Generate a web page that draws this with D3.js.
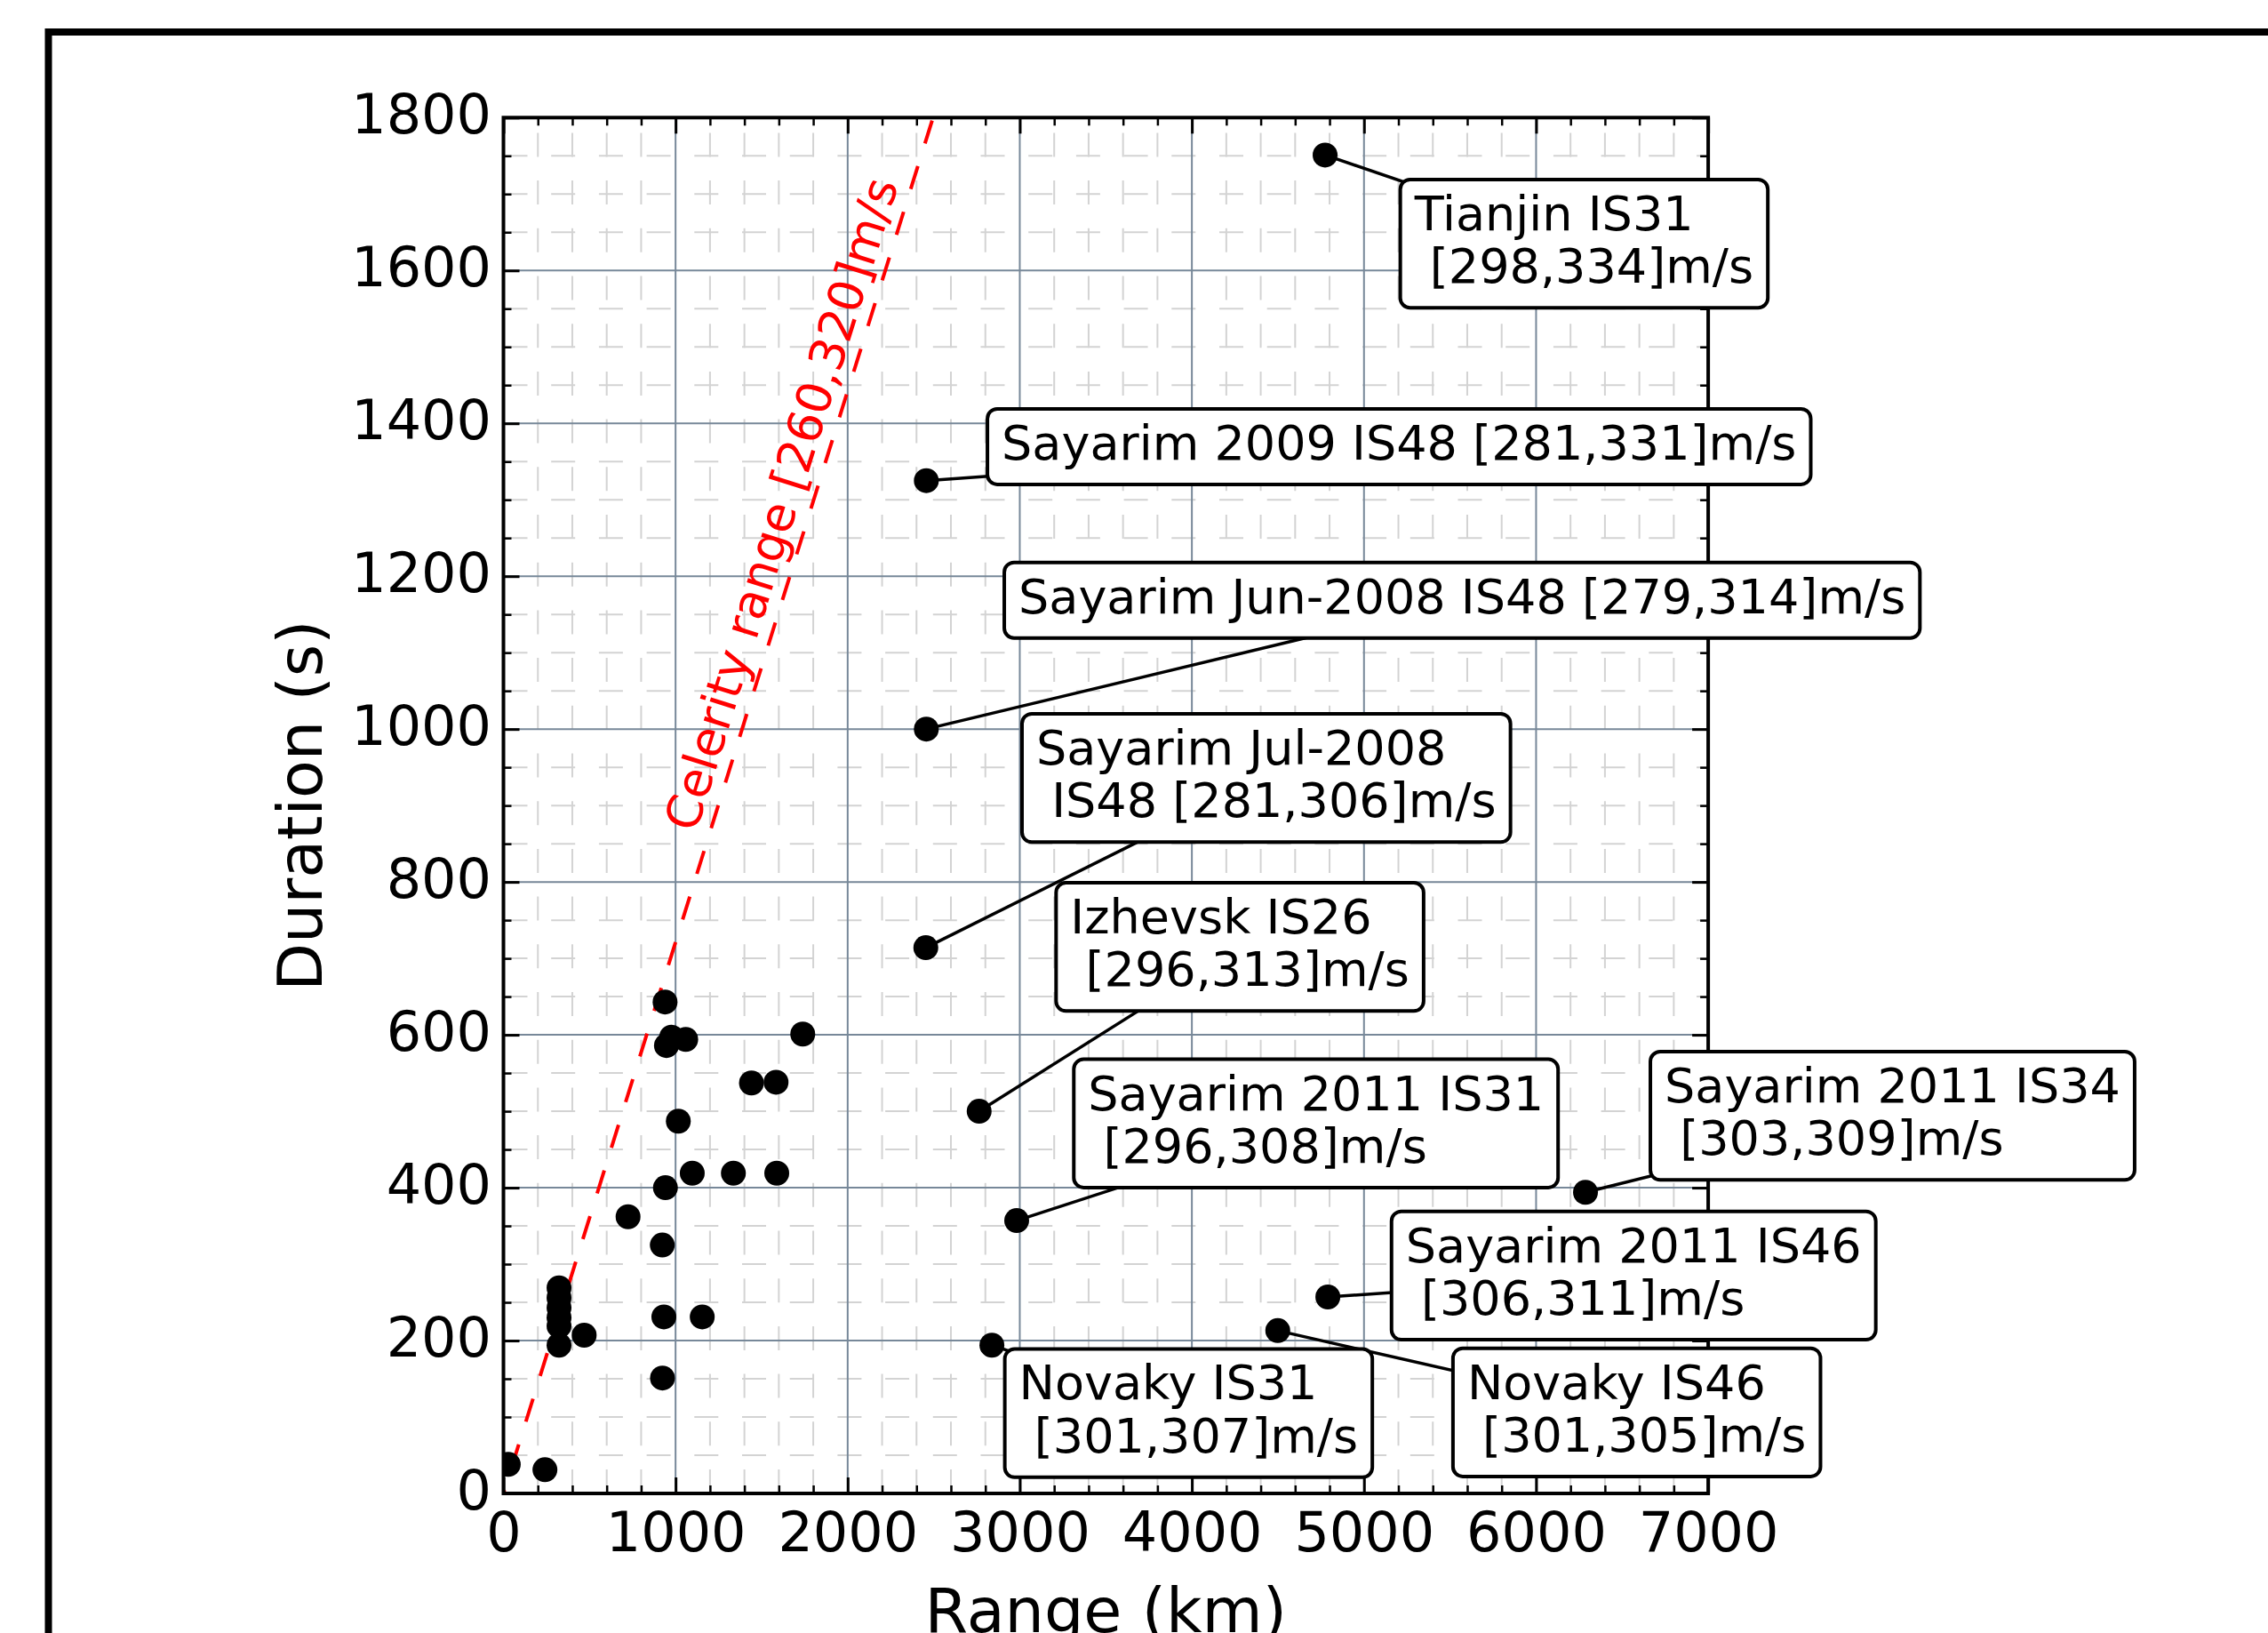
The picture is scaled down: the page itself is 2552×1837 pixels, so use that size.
<!DOCTYPE html>
<html>
<head>
<meta charset="utf-8">
<script src="https://cdn.jsdelivr.net/npm/d3@7"></script>
<style>
  html, body { margin: 0; padding: 0; background: #fff; }
  svg { display: block; }
  text { font-family: "DejaVu Sans", sans-serif; }
</style>
</head>
<body>
<svg id="chart" width="2552" height="1837"></svg>
<script>
(function() {

  // unlabelled events: range (km) and duration (s)
  const eventRange    = [28, 241, 323, 323, 323, 323, 323, 323, 469, 724, 923, 941, 932, 924, 1155,
                         939, 977, 947, 1059, 1739, 1441, 1584, 1016, 1097, 1336, 1588];
  const eventDuration = [38, 31, 269, 256, 243, 230, 219, 194, 207, 362, 325, 400, 231, 151, 231,
                         643, 597, 586, 594, 601, 537, 538, 487, 419, 419, 419];

  // annotated events
  const labelLines = [
    ["Tianjin IS31", " [298,334]m/s"],
    ["Sayarim 2009 IS48 [281,331]m/s"],
    ["Sayarim Jun-2008 IS48 [279,314]m/s"],
    ["Sayarim Jul-2008", " IS48 [281,306]m/s"],
    ["Izhevsk IS26", " [296,313]m/s"],
    ["Sayarim 2011 IS31", " [296,308]m/s"],
    ["Sayarim 2011 IS34", " [303,309]m/s"],
    ["Sayarim 2011 IS46", " [306,311]m/s"],
    ["Novaky IS31", " [301,307]m/s"],
    ["Novaky IS46", " [301,305]m/s"]
  ];
  const labelRange    = [4774, 2457, 2457, 2454, 2764, 2982, 6287, 4790, 2838, 4499];
  const labelDuration = [1751, 1325, 1000, 714, 500, 357, 394, 257, 194, 213];
  // top-left corner of each label box, in data units
  const boxRange    = [5211, 2812, 2910, 3013, 3211, 3314, 6664, 5160, 2913, 5517];
  const boxDuration = [1719, 1419, 1218, 1020, 799, 568, 578, 369, 189, 190];

  // celerity reference line
  const celerityRange    = [0, 2496];
  const celerityDuration = [0, 1800];
  const celerityText = "Celerity range [260,320]m/s";
  const celerityTextAt = [1707, 1288];

  const xTicks = [0, 1000, 2000, 3000, 4000, 5000, 6000, 7000];
  const yTicks = [0, 200, 400, 600, 800, 1000, 1200, 1400, 1600, 1800];
  const xMinor = d3.range(0, 7001, 200).filter(v => v % 1000 !== 0);
  const yMinor = d3.range(0, 1801, 50).filter(v => v % 200 !== 0);

  const left = 566.5, right = 1922.1, top = 132.3, bottom = 1680;

  const svg = d3.select("#chart");
  const x = d3.scaleLinear().domain([0, 7000]).range([left, right]);
  const y = d3.scaleLinear().domain([0, 1800]).range([bottom, top]);

  // outer figure frame (runs off the page)
  svg.append("rect")
    .attr("x", 54.5).attr("y", 36)
    .attr("width", 5000).attr("height", 5000)
    .attr("fill", "none").attr("stroke", "#000").attr("stroke-width", 8);

  svg.append("clipPath").attr("id", "plot-clip")
    .append("rect")
    .attr("x", left).attr("y", top)
    .attr("width", right - left).attr("height", bottom - top);

  // minor grid, dashed
  const grid = svg.append("g");
  grid.selectAll(".vminor")
    .data(xMinor).enter().append("line")
    .attr("x1", d => x(d)).attr("x2", d => x(d))
    .attr("y1", bottom).attr("y2", top)
    .attr("stroke", "#d3d3d3").attr("stroke-width", 2)
    .attr("stroke-dasharray", "27 26.7");
  grid.selectAll(".hminor")
    .data(yMinor).enter().append("line")
    .attr("x1", left).attr("x2", right)
    .attr("y1", d => y(d)).attr("y2", d => y(d))
    .attr("stroke", "#d3d3d3").attr("stroke-width", 2)
    .attr("stroke-dasharray", "27 26.7");

  // major grid
  grid.selectAll(".vmajor")
    .data(xTicks).enter().append("line")
    .attr("x1", d => x(d)).attr("x2", d => x(d))
    .attr("y1", bottom).attr("y2", top)
    .attr("stroke", "#778899").attr("stroke-width", 2);
  grid.selectAll(".hmajor")
    .data(yTicks).enter().append("line")
    .attr("x1", left).attr("x2", right)
    .attr("y1", d => y(d)).attr("y2", d => y(d))
    .attr("stroke", "#778899").attr("stroke-width", 2);

  // celerity line
  svg.append("line")
    .attr("clip-path", "url(#plot-clip)")
    .attr("x1", x(celerityRange[0])).attr("y1", y(celerityDuration[0]))
    .attr("x2", x(celerityRange[1])).attr("y2", y(celerityDuration[1]))
    .attr("stroke", "red").attr("stroke-width", 4)
    .attr("stroke-dasharray", "27 26.8").attr("stroke-dashoffset", 23);

  const angle = Math.atan2(y(celerityDuration[0]) - y(celerityDuration[1]),
                           x(celerityRange[1]) - x(celerityRange[0])) * 180 / Math.PI;
  svg.append("text")
    .attr("transform", `translate(${x(celerityTextAt[0])},${y(celerityTextAt[1])}) rotate(${-angle})`)
    .attr("text-anchor", "middle")
    .attr("font-size", 54)
    .attr("fill", "red")
    .text(celerityText);

  // connectors from points to label boxes
  const boxes = svg.append("g");
  const connectors = svg.append("g");

  // dots
  const dots = svg.append("g").attr("clip-path", "url(#plot-clip)");
  dots.selectAll(".ev")
    .data(eventRange.map((r, i) => [r, eventDuration[i]]))
    .enter().append("circle")
    .attr("cx", d => x(d[0])).attr("cy", d => y(d[1]))
    .attr("r", 14).attr("fill", "#000");
  dots.selectAll(".lab")
    .data(labelRange.map((r, i) => [r, labelDuration[i]]))
    .enter().append("circle")
    .attr("cx", d => x(d[0])).attr("cy", d => y(d[1]))
    .attr("r", 14).attr("fill", "#000");

  // spines
  svg.append("rect")
    .attr("x", left).attr("y", top)
    .attr("width", right - left).attr("height", bottom - top)
    .attr("fill", "none").attr("stroke", "#000").attr("stroke-width", 4);

  // ticks, all pointing inward
  function styleAxis(g, width) {
    g.select(".domain").remove();
    g.attr("color", "#000").attr("font-size", 62).attr("font-family", "DejaVu Sans");
    g.selectAll("line").attr("stroke-width", width);
  }
  svg.append("g").attr("transform", `translate(0,${bottom})`)
    .call(d3.axisBottom(x).tickValues(xTicks).tickSize(-18).tickPadding(21).tickFormat(d3.format("d")))
    .call(g => styleAxis(g, 3));
  svg.append("g").attr("transform", `translate(${left},0)`)
    .call(d3.axisLeft(y).tickValues(yTicks).tickSize(-18).tickPadding(13.5).tickFormat(d3.format("d")))
    .call(g => styleAxis(g, 3))
    .call(g => g.selectAll("text").attr("dy", "0.28em"));
  svg.append("g").attr("transform", `translate(0,${top})`)
    .call(d3.axisTop(x).tickValues(xTicks).tickSize(-18).tickFormat(""))
    .call(g => styleAxis(g, 3));
  svg.append("g").attr("transform", `translate(${right},0)`)
    .call(d3.axisRight(y).tickValues(yTicks).tickSize(-18).tickFormat(""))
    .call(g => styleAxis(g, 3));
  [[d3.axisBottom(x).tickValues(xMinor), `translate(0,${bottom})`],
   [d3.axisTop(x).tickValues(xMinor), `translate(0,${top})`],
   [d3.axisLeft(y).tickValues(yMinor), `translate(${left},0)`],
   [d3.axisRight(y).tickValues(yMinor), `translate(${right},0)`]].forEach(([ax, tr]) => {
    svg.append("g").attr("transform", tr)
      .call(ax.tickSize(-9).tickFormat(""))
      .call(g => styleAxis(g, 2.5));
  });

  // label boxes
  const lineStep = 59.3;
  labelLines.forEach((lines, i) => {
    const bx = x(boxRange[i]), by = y(boxDuration[i]);
    const g = boxes.append("g");
    const rect = g.append("rect");
    const t = g.append("text").attr("font-size", 54).attr("fill", "#000")
      .attr("xml:space", "preserve").style("white-space", "pre");
    lines.forEach((ln, k) => {
      t.append("tspan").attr("x", bx + 16).attr("y", by + 57 + k * lineStep).text(ln);
    });
    let w = 0;
    t.selectAll("tspan").each(function() { w = Math.max(w, this.getComputedTextLength()); });
    const bw = w + 32;
    const bh = 57 + (lines.length - 1) * lineStep + 28;
    rect.attr("x", bx).attr("y", by).attr("width", bw).attr("height", bh)
      .attr("rx", 11).attr("ry", 11)
      .attr("fill", "#fff").attr("stroke", "#000").attr("stroke-width", 4);
    connectors.append("line")
      .attr("x1", x(labelRange[i])).attr("y1", y(labelDuration[i]))
      .attr("x2", bx + bw / 2).attr("y2", by + bh / 2)
      .attr("stroke", "#000").attr("stroke-width", 3.5);
  });
  boxes.raise();

  // axis titles
  svg.append("text")
    .attr("x", (left + right) / 2).attr("y", 1836)
    .attr("text-anchor", "middle").attr("font-size", 70)
    .text("Range (km)");
  svg.append("text")
    .attr("transform", `translate(362,${(top + bottom) / 2}) rotate(-90)`)
    .attr("text-anchor", "middle").attr("font-size", 70)
    .text("Duration (s)");
})();
</script>
</body>
</html>
